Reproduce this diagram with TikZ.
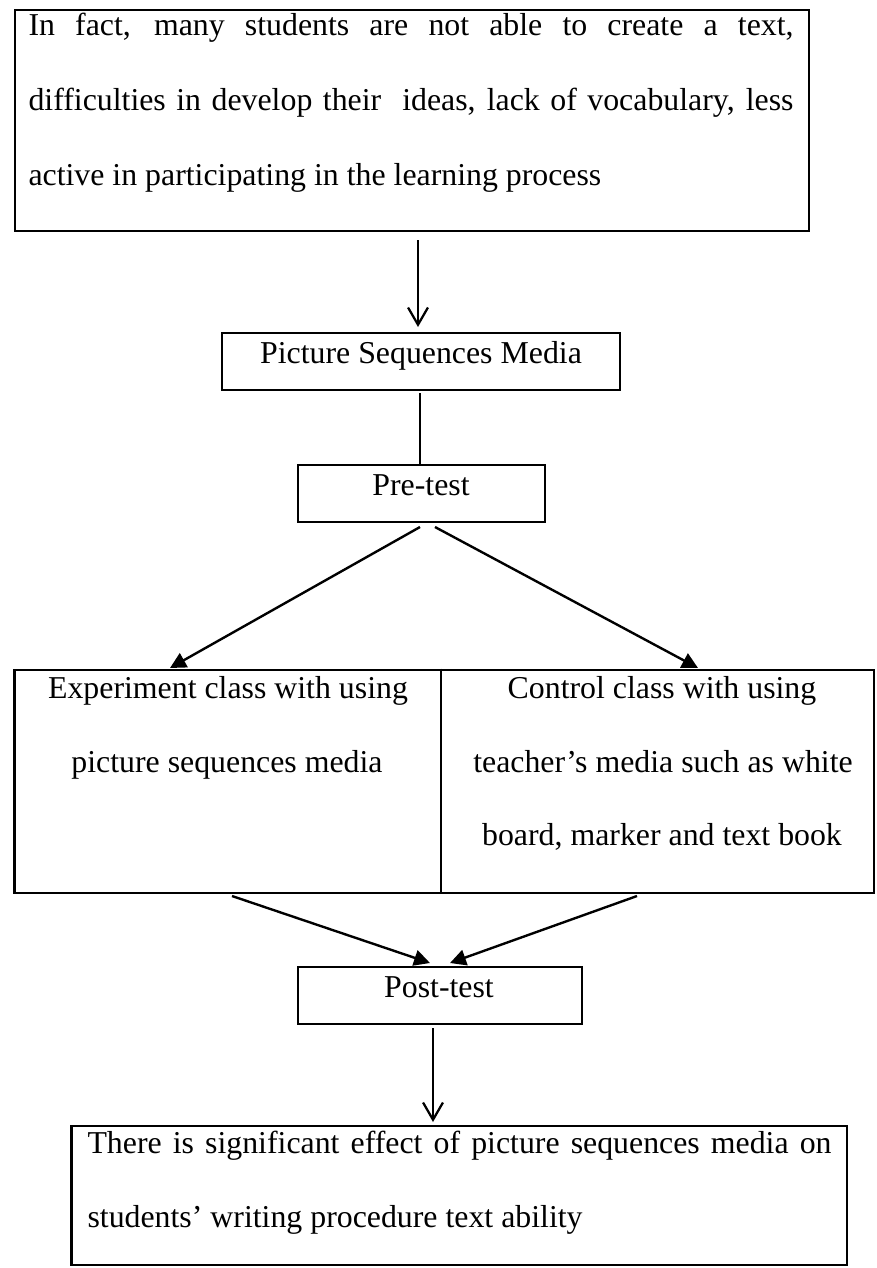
\documentclass[tikz,border=0pt]{standalone}
\usepackage{fontspec}
\setmainfont{Liberation Serif}
\usetikzlibrary{arrows.meta,fit}
\begin{document}
\begin{tikzpicture}[x=0.377pt, y=-0.377pt,
  box/.style={draw, line width=0.95pt, inner sep=0pt},
  txt/.style={inner sep=0pt, font=\fontsize{12pt}{14pt}\selectfont},
  barb/.style={-{Straight Barb[length=6.5pt,width=7.5pt]}, line width=0.85pt},
  tri/.style={-{Triangle[length=6pt,width=6pt]}, line width=0.9pt}]
\useasboundingbox (0,0) rectangle (876,1268);
% boxes
\node[box, fit={(15,10) (809,231)}] (top) {};
\node[box, fit={(222,333) (620,390)}] (psm) {};
\node[box, fit={(298,465) (545,522)}] (pre) {};
\node[box, fit={(14.5,670) (874,893)}] (cls) {};
\node[box, fit={(298,967) (582,1024)}] (post) {};
\node[box, fit={(71.5,1126) (847,1265)}] (res) {};
\coordinate (dv) at (441,0);
\draw[line width=0.6pt] (dv |- cls.north) -- (dv |- cls.south);
% texts
\node[txt, anchor=base west] (t1) at (28,35) {\makebox[288.4pt][s]{In fact, many students are not able to create a text,}};
\node[txt, anchor=base west] (t2) at (28,110) {\makebox[288.4pt][s]{difficulties in develop their\ \ ideas, lack of vocabulary, less}};
\node[txt, anchor=base west] (t3) at (28,185) {active in participating in the learning process};
\node[txt, anchor=base] (tpsm) at (421,363) {Picture Sequences Media};
\node[txt, anchor=base] (tpre) at (421,495) {Pre-test};
\node[txt, anchor=base] (l1) at (228,698) {Experiment class with using};
\node[txt, anchor=base] (l2) at (227,772) {picture sequences media};
\node[txt, anchor=base] (r1) at (662,698) {Control class with using};
\node[txt, anchor=base] (r2) at (663,772) {teacher’s media such as white};
\node[txt, anchor=base] (r3) at (662,845) {board, marker and text book};
\node[txt, anchor=base] (tpost) at (439,997) {Post-test};
\node[txt, anchor=base west] (b1) at (87,1153) {\makebox[280.5pt][s]{There is significant effect of picture sequences media on}};
\node[txt, anchor=base west] (b2) at (87,1227) {students’ writing procedure text ability};
% connectors
\coordinate (a1s) at (418,240);
\coordinate (a1e) at (418,327);
\draw[barb] (a1s) -- (a1e);
\coordinate (l2s) at (420,393);
\draw[line width=0.55pt] (l2s) -- (l2s |- pre.north);
\coordinate (d1s) at (420,527);
\coordinate (d1e) at (170,668);
\coordinate (d2s) at (435,527);
\coordinate (d2e) at (698,668);
\draw[tri] (d1s) -- (d1e);
\draw[tri] (d2s) -- (d2e);
\coordinate (e1s) at (232,896);
\coordinate (e1e) at (430,963);
\coordinate (e2s) at (637,896);
\coordinate (e2e) at (450,963);
\draw[tri] (e1s) -- (e1e);
\draw[tri] (e2s) -- (e2e);
\coordinate (f1s) at (433,1028);
\coordinate (f1e) at (433,1122);
\draw[barb] (f1s) -- (f1e);
\end{tikzpicture}
\end{document}
